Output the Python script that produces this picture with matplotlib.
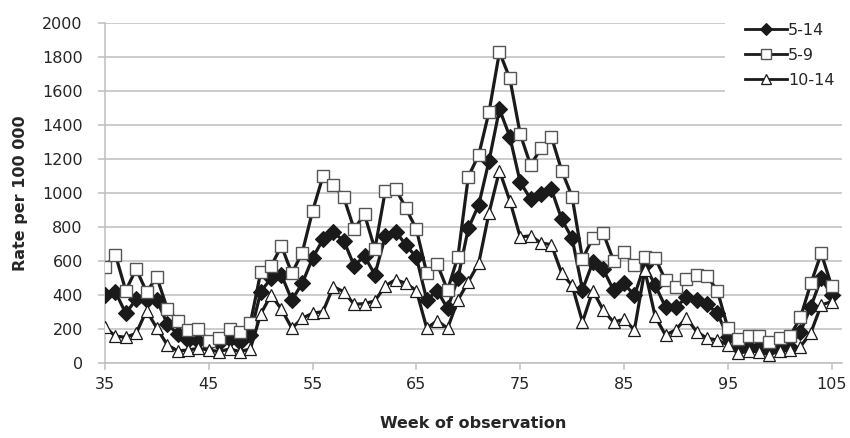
import matplotlib
matplotlib.use("Agg")
import matplotlib.pyplot as plt
from matplotlib.patches import Rectangle

weeks = list(range(35, 106))

rate_5_14 = [400, 420, 294, 376, 372, 372, 231, 172, 140, 133, 122, 122, 141, 127, 167,
             421, 500, 519, 372, 470, 619, 729, 770, 721, 575, 629, 522, 747, 774, 696,
             623, 372, 427, 323, 500, 794, 931, 1192, 1495, 1333, 1065, 967, 998, 1024,
             847, 735, 433, 595, 553, 429, 470, 399, 580, 459, 331, 329, 388, 370, 346,
             294, 155, 95, 95, 98, 82, 92, 98, 186, 333, 500, 402]

rate_5_9 = [564, 640, 427, 555, 421, 506, 321, 251, 196, 200, 133, 147, 202, 186, 235,
            535, 572, 690, 529, 651, 896, 1101, 1050, 976, 790, 876, 671, 1014, 1027, 911,
            788, 529, 584, 431, 627, 1098, 1225, 1480, 1831, 1676, 1348, 1166, 1264, 1333,
            1133, 980, 613, 738, 766, 603, 655, 576, 623, 620, 488, 449, 495, 522, 514,
            426, 208, 145, 162, 162, 127, 151, 161, 270, 470, 647, 455]

rate_10_14 = [212, 160, 153, 176, 310, 206, 108, 73, 78, 88, 78, 69, 84, 69, 84,
              290, 402, 318, 206, 265, 294, 304, 451, 421, 347, 351, 367, 456, 492, 470,
              427, 206, 251, 206, 372, 480, 588, 886, 1133, 956, 743, 750, 708, 698,
              529, 458, 243, 428, 312, 242, 259, 196, 549, 276, 165, 198, 268, 186, 147,
              137, 108, 59, 71, 69, 49, 75, 78, 98, 180, 343, 363]

series_labels = ["5-14", "5-9", "10-14"]
x_ticks = [35, 45, 55, 65, 75, 85, 95, 105]
y_ticks = [0, 200, 400, 600, 800, 1000, 1200, 1400, 1600, 1800, 2000]

plt.rcParams['font.family'] = ['DejaVu Sans']

W, H = 850, 438
fig = plt.figure(figsize=(W / 100, H / 100), dpi=100)
left, right, bottom, top = 105, 842, 363.3, 23.3
ax = fig.add_axes([left / W, (H - bottom) / H, (right - left) / W, (bottom - top) / H])

grid_c = '#BFBFBF'
text_c = '#262626'
line_c = '#1a1a1a'

ax.plot(weeks, rate_5_14, color=line_c, lw=2.3, marker='D', ms=8.5,
        mfc=line_c, mec=line_c, mew=0.8, zorder=3, label=series_labels[0])
ax.plot(weeks, rate_5_9, color=line_c, lw=2.3, marker='s', ms=8,
        mfc='white', mec='#555555', mew=1.0, zorder=4, label=series_labels[1])
ax.plot(weeks, rate_10_14, color=line_c, lw=2.3, marker='^', ms=9,
        mfc='white', mec=line_c, mew=0.9, zorder=5, label=series_labels[2])

ax.set_xlim(35, 106)
ax.set_ylim(0, 2000)
ax.set_xticks(x_ticks)
ax.set_yticks(y_ticks)
ax.yaxis.grid(True, color=grid_c, lw=1.1)
ax.set_axisbelow(True)
for s in ['top', 'right']:
    ax.spines[s].set_visible(False)
ax.spines['left'].set_color(grid_c)
ax.spines['left'].set_linewidth(1.1)
ax.spines['bottom'].set_color(grid_c)
ax.spines['bottom'].set_linewidth(1.1)
ax.tick_params(axis='y', length=5, width=1.1, color=grid_c, pad=11, labelsize=11.5,
               labelcolor=text_c)
ax.tick_params(axis='x', length=5, width=1.1, color=grid_c, direction='out', pad=5,
               labelsize=11.5, labelcolor=text_c)

ax.set_xlabel('Week of observation', fontsize=11.5, fontweight='bold', color=text_c, labelpad=17)
ax.set_ylabel('Rate per 100 000', fontsize=11.5, fontweight='bold', color=text_c, labelpad=10)

# white legend background covering gridlines (as in the reference)
fig.patches.append(Rectangle((725 / W, 1 - 102 / H), (W - 725) / W, 88 / H,
                             transform=fig.transFigure, facecolor='white',
                             edgecolor='none', zorder=8))

leg = fig.legend(loc='upper left', bbox_to_anchor=(745 / W, 1 - 23 / H),
                 frameon=False, fontsize=11.5, handlelength=2.6, handletextpad=0.1,
                 labelspacing=0.62, borderpad=0, borderaxespad=0)
for t in leg.get_texts():
    t.set_color(text_c)
for h in leg.get_lines():
    h.set_markersize(6.5)
    h.set_linewidth(2.0)
leg.set_zorder(10)

fig.savefig('out.png', dpi=100)
